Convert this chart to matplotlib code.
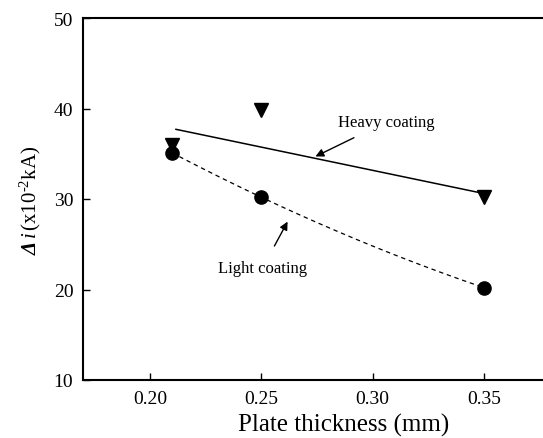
import numpy as np
import matplotlib
matplotlib.use("Agg")
import matplotlib.pyplot as plt

plt.rcParams['font.family'] = ['Liberation Serif', 'DejaVu Serif']
plt.rcParams['mathtext.fontset'] = 'custom'
plt.rcParams['mathtext.rm'] = 'Liberation Serif'
plt.rcParams['mathtext.it'] = 'Liberation Serif:italic'
plt.rcParams['mathtext.bf'] = 'Liberation Serif:bold:italic'

# Werte
thickness = [0.21, 0.25, 0.35]
heavy = [36.0, 39.8, 30.2]
light = [35.1, 30.2, 20.2]

heavy_fit_x = [0.2117, 0.348]
heavy_fit_y = [37.7, 30.7]

x_ticks = [0.20, 0.25, 0.30, 0.35]
y_ticks = [10, 20, 30, 40, 50]

fig = plt.figure(figsize=(5.43, 4.39), dpi=100, facecolor='white')
ax = fig.add_axes([83 / 543, 1 - 381 / 439, (551 - 83) / 543, (381 - 19) / 439])

# Kurve "Light coating": Polynom 2. Grades durch die Messpunkte
coef = np.polyfit(thickness, light, 2)
xs = np.linspace(thickness[0], thickness[-1], 100)
ax.plot(xs, np.polyval(coef, xs), ls=(0, (3.5, 3)), color='black', lw=0.9)
ax.plot(heavy_fit_x, heavy_fit_y, color='black', lw=1.1)

ax.plot(thickness, heavy, 'v', color='black', ms=9.5, ls='none')
ax.plot(thickness, light, 'o', color='black', ms=9.5, ls='none')

ax.annotate('Heavy coating', xy=(0.2743, 34.7), xytext=(0.306, 38.5),
            ha='center', va='center', fontsize=12,
            arrowprops=dict(arrowstyle='-|>', color='black', lw=1,
                            shrinkA=8, shrinkB=0, mutation_scale=12))
ax.annotate('Light coating', xy=(0.2618, 27.5), xytext=(0.2506, 22.4),
            ha='center', va='center', fontsize=12,
            arrowprops=dict(arrowstyle='-|>', color='black', lw=1,
                            shrinkA=9, shrinkB=0, mutation_scale=12))

ax.set_xlim(0.17, 0.38)
ax.set_ylim(10, 50)
ax.set_xticks(x_ticks)
ax.set_xticklabels(['%.2f' % t for t in x_ticks])
ax.set_yticks(y_ticks)
ax.tick_params(direction='in', length=5, width=1, labelsize=14, pad=7)

for s in ['left', 'bottom', 'top']:
    ax.spines[s].set_linewidth(1.5)
ax.spines['right'].set_visible(False)

ax.set_xlabel('Plate thickness (mm)', fontsize=18)
ax.xaxis.set_label_coords(0.556, -0.09)
ax.set_ylabel(r'$\mathbf{\Delta}\,\mathit{i}\,$(x10$^{\text{-2}}$kA)', fontsize=15)
ax.yaxis.set_label_coords(-0.085, 0.5)

fig.savefig('out.png', dpi=100, facecolor='white')
